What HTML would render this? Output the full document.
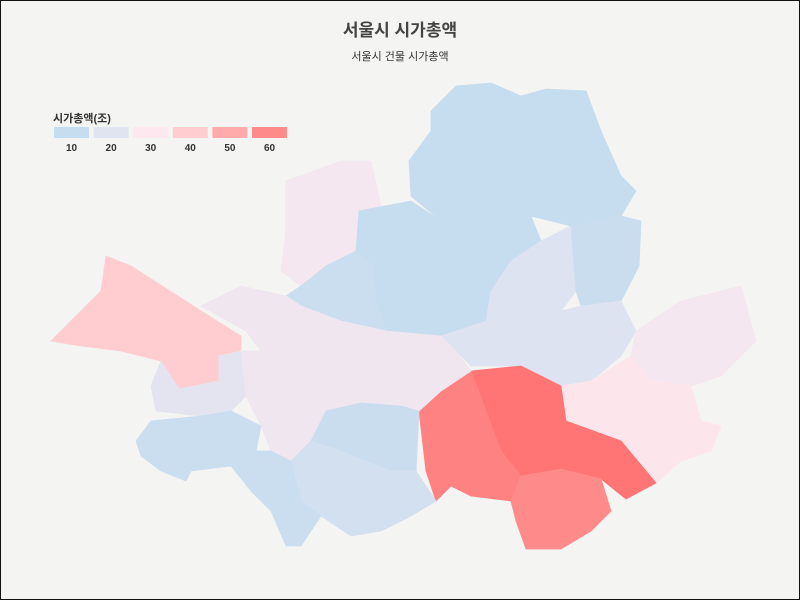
<!DOCTYPE html>
<html><head><meta charset="utf-8">
<style>
html,body{margin:0;padding:0;background:#f4f4f2;}
#wrap{position:relative;width:798px;height:598px;border:1px solid #111;background:#f4f4f2;overflow:hidden;font-family:"Liberation Sans","Noto Sans CJK KR",sans-serif;}
</style></head>
<body>
<div id="wrap">
<svg id="map" width="798" height="598">
  <text x="399" y="35" text-anchor="middle" font-size="17" font-weight="bold" fill="#444" font-family="Liberation Sans, Noto Sans CJK KR, sans-serif">서울시 시가총액</text>
  <text x="399" y="59" text-anchor="middle" font-size="11" fill="#333" font-family="Liberation Sans, Noto Sans CJK KR, sans-serif">서울시 건물 시가총액</text>
  <g id="districts"></g>
  <g id="legend">
    <text x="52" y="121" font-size="11" font-weight="bold" fill="#333" font-family="Liberation Sans, Noto Sans CJK KR, sans-serif">시가총액(조)</text>
  </g>
</svg>
</div>
<script>
const districtNames = ["도봉구","노원구","강북구","은평구","종로구","성북구","중구","서대문구","동대문구","중랑구","성동구","광진구","강동구","송파구","강남구","서초구","서초구남","용산구","마포구","강서구","양천구","구로구","영등포구","동작구","관악구","금천구"];
const districtValues = [10,10,10,27,10,10,10,12,19,11,19,19,27,31,68,63,60,25,25,40,21,12,25,11,15,12];
const legendValues = [10,20,30,40,50,60];

const shapes = [
"455,85 490,82 520,95 530,150 500,180 460,170 440,120",
"520,95 545,88 585,90 600,130 620,175 635,190 620,215 570,225 530,215 500,180 530,150",
"430,110 455,85 440,120 460,170 500,180 530,215 480,238 440,220 410,195 408,160 430,130",
"285,180 340,160 370,160 380,205 358,210 355,250 325,265 300,285 280,270 285,230",
"358,210 410,200 440,220 440,260 410,270 372,265 355,250",
"440,220 480,238 530,215 540,240 510,260 490,290 440,290 410,270 440,260",
"372,265 410,270 440,290 490,290 485,320 440,335 385,330 375,300",
"325,265 355,250 372,265 375,300 385,330 340,320 300,305 285,295 300,285",
"510,260 540,240 570,225 575,290 560,310 520,315 485,320 490,290",
"570,225 620,215 640,220 638,265 620,300 580,305 575,290",
"485,320 520,315 560,310 575,340 560,360 520,365 470,365 455,350 440,335",
"560,310 580,305 620,300 635,330 620,355 590,380 560,385 540,375 520,365 560,360 575,340",
"635,330 680,300 740,285 755,340 720,375 690,385 650,380 630,355",
"590,380 630,355 650,380 690,385 700,420 720,425 710,450 680,460 655,482 620,440 565,420 560,385",
"470,370 520,365 540,375 560,385 565,420 620,440 655,482 625,498 600,478 560,468 520,475 500,450 485,410",
"418,410 440,390 470,370 485,410 500,450 520,475 510,500 470,495 450,485 435,500 425,470",
"510,500 520,475 560,468 600,478 610,510 590,530 560,548 525,548 515,520",
"385,330 440,335 455,350 470,370 440,390 418,410 390,400 360,385 340,345 340,320",
"245,330 200,305 240,285 285,295 300,305 340,320 340,345 360,385 330,380 295,360 260,350",
"50,340 70,320 100,290 105,255 130,265 200,310 240,335 240,350 218,355 218,380 178,388 160,360 120,350 80,345",
"160,360 178,388 218,380 218,355 240,350 245,395 230,410 200,415 155,410 150,385",
"135,440 150,420 200,415 230,410 260,425 255,450 230,465 190,470 185,480 160,470 140,455",
"245,395 240,350 260,350 295,360 330,380 360,385 390,400 418,410 360,402 325,410 310,440 290,460 270,450 260,425",
"310,440 325,410 360,402 400,405 418,410 415,470 390,470 340,450",
"290,460 310,440 340,450 390,470 415,470 435,500 410,515 380,530 350,535 320,515 300,500",
"230,465 255,450 270,450 290,460 300,500 320,515 300,545 285,545 270,510 250,490"
];

const stops = [[10,[198,220,239]],[20,[224,228,240]],[30,[253,232,239]],[40,[255,205,208]],[50,[255,171,171]],[60,[255,138,138]],[70,[255,110,110]]];
function colorScale(v){
  if(v<=stops[0][0]) return 'rgb('+stops[0][1]+')';
  for(let i=1;i<stops.length;i++){
    if(v<=stops[i][0]){
      const t=(v-stops[i-1][0])/(stops[i][0]-stops[i-1][0]);
      const a=stops[i-1][1], b=stops[i][1];
      return 'rgb('+a.map((c,k)=>Math.round(c+(b[k]-c)*t)).join(',')+')';
    }
  }
  return 'rgb('+stops[stops.length-1][1]+')';
}
const NS='http://www.w3.org/2000/svg';
const g=document.getElementById('districts');
districtValues.forEach((v,i)=>{
  const p=document.createElementNS(NS,'polygon');
  p.setAttribute('points',shapes[i]);
  p.setAttribute('fill',colorScale(v));
  p.setAttribute('stroke',colorScale(v));
  p.setAttribute('stroke-width','0.8');
  
  
  const t=document.createElementNS(NS,'title');t.textContent=districtNames[i]+': '+v;p.appendChild(t);
  g.appendChild(p);
});
const lg=document.getElementById('legend');
legendValues.forEach((v,i)=>{
  const x=53+i*39.6;
  const r=document.createElementNS(NS,'rect');
  r.setAttribute('x',x);r.setAttribute('y',126);r.setAttribute('width',35);r.setAttribute('height',11);
  r.setAttribute('fill',colorScale(v));
  
  
  lg.appendChild(r);
  const t=document.createElementNS(NS,'text');
  t.setAttribute('x',x+17.5);t.setAttribute('y',150);t.setAttribute('text-anchor','middle');
  t.setAttribute('font-size','10');t.setAttribute('font-weight','bold');t.setAttribute('fill','#333');
  t.textContent=v;
  
  
  lg.appendChild(t);
});
</script>
</body></html>
